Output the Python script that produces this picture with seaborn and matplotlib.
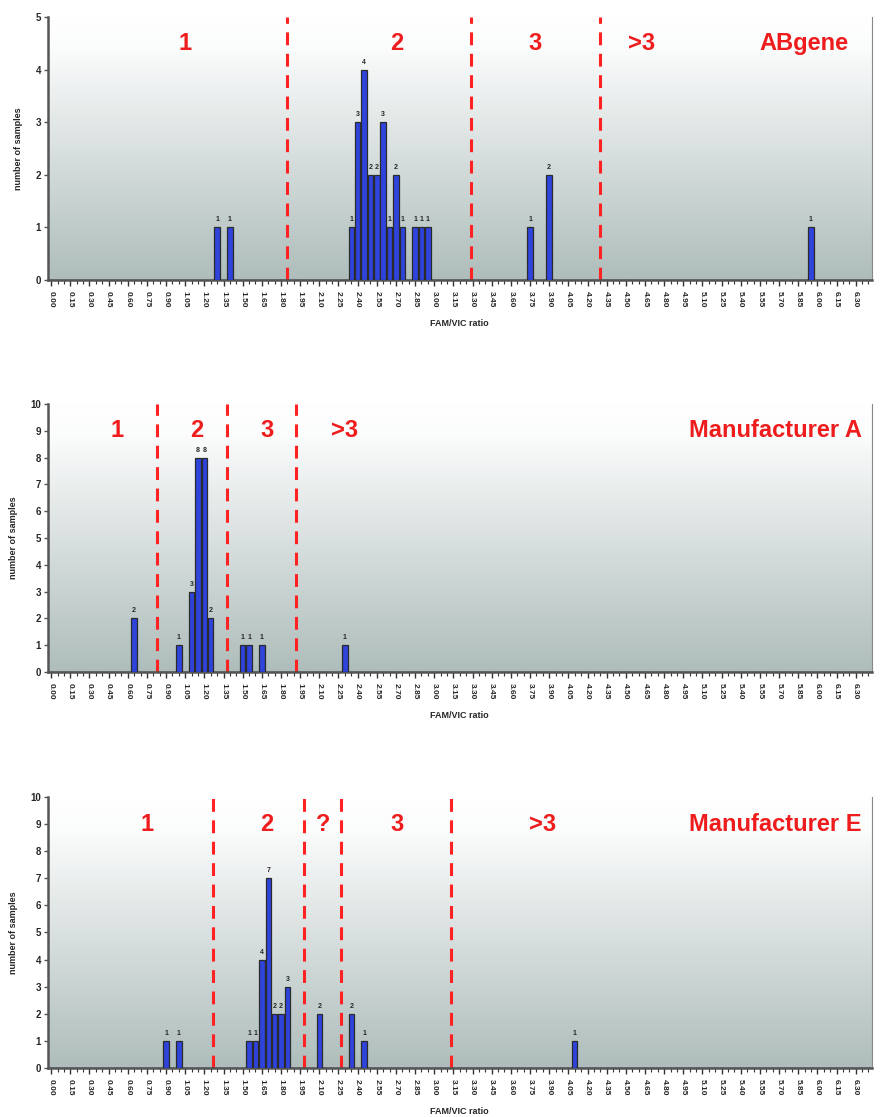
import numpy as np
import pandas as pd
import matplotlib
matplotlib.use('Agg')
import matplotlib.pyplot as plt
import seaborn as sns

# FAM/VIC ratio bins (0.05 wide) that hold samples, and the counts
abgene_ratio = [1.30, 1.40, 2.35, 2.40, 2.45, 2.50, 2.55, 2.60, 2.65, 2.70,
                2.75, 2.85, 2.90, 2.95, 3.75, 3.90, 5.95]
abgene_count = [1, 1, 1, 3, 4, 2, 2, 3, 1, 2, 1, 1, 1, 1, 1, 2, 1]

manu_a_ratio = [0.65, 1.00, 1.10, 1.15, 1.20, 1.25, 1.50, 1.55, 1.65, 2.30]
manu_a_count = [2, 1, 3, 8, 8, 2, 1, 1, 1, 1]

manu_e_ratio = [0.90, 1.00, 1.55, 1.60, 1.65, 1.70, 1.75, 1.80, 1.85, 2.10,
                2.35, 2.45, 4.10]
manu_e_count = [1, 1, 1, 1, 4, 7, 2, 2, 3, 2, 2, 1, 1]

# group boundaries (dashed lines) and group labels
abgene_cuts = [1.85, 3.29, 4.30]
abgene_groups = [('1', 1.05), ('2', 2.71), ('3', 3.79), ('>3', 4.62)]
manu_a_cuts = [0.83, 1.38, 1.92]
manu_a_groups = [('1', 0.52), ('2', 1.14), ('3', 1.69), ('>3', 2.30)]
manu_e_cuts = [1.27, 1.98, 2.27, 3.13]
manu_e_groups = [('1', 0.75), ('2', 1.69), ('?', 2.13), ('3', 2.71), ('>3', 3.85)]

bin_values = np.round(np.arange(0, 129) * 0.05, 2)
bin_labels = [f"{v:.2f}" for v in bin_values]

sns.set_theme(style='white')
plt.rcParams['font.family'] = ['Liberation Sans', 'DejaVu Sans']
plt.rcParams['font.weight'] = 'bold'

fig = plt.figure(figsize=(8.8, 11.17), dpi=100)

panels = [
    (abgene_ratio, abgene_count, abgene_cuts, abgene_groups, 'ABgene', 5,
     [0.0545, 0.7493, 0.936, 0.2355], 0.972),
    (manu_a_ratio, manu_a_count, manu_a_cuts, manu_a_groups, 'Manufacturer A', 10,
     [0.0545, 0.3984, 0.936, 0.2400], 0.988),
    (manu_e_ratio, manu_e_count, manu_e_cuts, manu_e_groups, 'Manufacturer E', 10,
     [0.0545, 0.0439, 0.936, 0.2426], 0.988),
]

grad = np.linspace(0, 1, 256).reshape(-1, 1)
cmap = matplotlib.colors.LinearSegmentedColormap.from_list(
    'bg', [(0, '#ffffff'), (0.12, '#fbfcfc'), (1, '#aebdbb')])

for ratio, count, cuts, groups, name, ymax, rect, name_x in panels:
    ax = fig.add_axes(rect)
    counts = pd.Series(count, index=[f"{r:.2f}" for r in ratio])
    full = counts.reindex(bin_labels, fill_value=0)
    df = pd.DataFrame({'ratio': bin_labels, 'n': full.values})

    ax.imshow(grad, cmap=cmap, aspect='auto', extent=[0, 1, 0, 1],
              transform=ax.transAxes, zorder=0)
    sns.barplot(data=df, x='ratio', y='n', order=bin_labels, color='#2e44dc',
                saturation=1, edgecolor='#2b2b2b', linewidth=0.9, width=0.85,
                errorbar=None, ax=ax, zorder=3)

    # numbers above bars
    for lab, n in counts.items():
        ax.text(bin_labels.index(lab), n + ymax * 0.015, str(n), ha='center',
                va='bottom', fontsize=5, fontweight='bold', zorder=4)

    for c in cuts:
        ax.axvline(c / 0.05, color='#ff2222', lw=2.2,
                   linestyle=(0, (4.2, 2.8)), zorder=2)
    for txt, x in groups:
        ax.text(x / 0.05, ymax * 0.9, txt, color='#ee1c1c', fontsize=17,
                fontweight='bold', ha='center', va='center')
    ax.text(name_x, 0.9, name, color='#ee1c1c', fontsize=17,
            fontweight='bold', ha='right', va='center', transform=ax.transAxes)

    ax.set_xlim(-0.5, len(bin_labels) - 0.5)
    ax.set_ylim(0, ymax)
    ax.set_yticks(range(0, ymax + 1))
    ax.set_yticklabels([str(i) for i in range(0, ymax + 1)], fontsize=7,
                       fontweight='bold')
    ax.set_xticks(range(0, len(bin_labels), 3))
    ax.set_xticklabels(bin_labels[::3], rotation=270, fontsize=6,
                       fontweight='bold')
    ax.set_xticks(range(len(bin_labels)), minor=True)
    ax.tick_params(axis='x', which='major', direction='out', length=4,
                   width=1, color='#333333', pad=4, bottom=True)
    ax.tick_params(axis='x', which='minor', direction='out', length=3,
                   width=0.8, color='#333333', bottom=True)
    ax.tick_params(axis='y', direction='out', length=3, width=1,
                   color='#555555', pad=2, left=True)
    ax.set_xlabel('FAM/VIC ratio', fontsize=6.5, fontweight='bold', labelpad=8)
    ax.set_ylabel('number of samples', fontsize=6.5, fontweight='bold',
                  labelpad=9)
    for s in ['left', 'bottom']:
        ax.spines[s].set_color('#555555')
        ax.spines[s].set_linewidth(1.8)
    ax.spines['top'].set_visible(False)
    ax.spines['right'].set_color('#888888')
    ax.spines['right'].set_linewidth(0.8)

fig.savefig('out.png', dpi=100)
